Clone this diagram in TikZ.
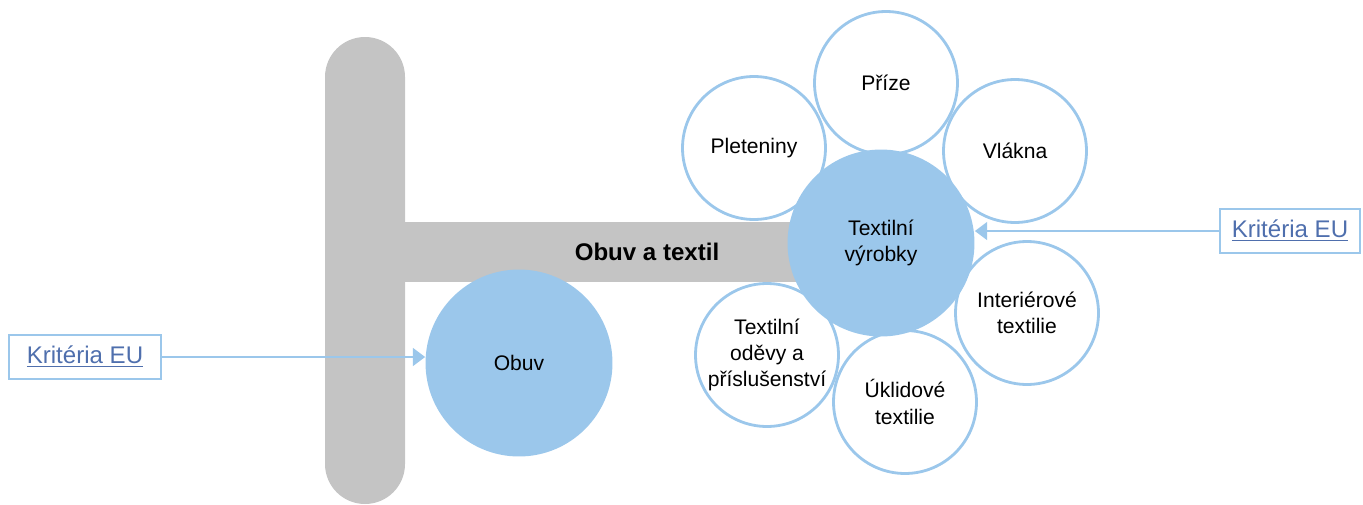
\documentclass[tikz,border=0pt]{standalone}
\usepackage{fontspec}
\setmainfont{Liberation Sans}
\usetikzlibrary{arrows.meta, positioning}
\definecolor{lightblue}{RGB}{155,199,235}
\definecolor{bargray}{RGB}{196,196,196}
\definecolor{linkblue}{RGB}{79,111,173}

\begin{document}
\begin{tikzpicture}[x=0.02cm, y=-0.02cm,
	bigcirc/.style={circle, fill=lightblue, inner sep=0pt, minimum size=3.74cm, align=center, font=\fontsize{12}{15}\selectfont},
	smallcirc/.style={circle, draw=lightblue, line width=1.6pt, inner sep=0pt, minimum size=2.86cm, align=center, font=\fontsize{12}{15}\selectfont},
	kritbox/.style={draw=lightblue, line width=1.6pt, inner sep=0pt, minimum height=0.88cm, text=linkblue, font=\fontsize{13.7}{16}\selectfont},
	pointer/.style={draw=lightblue, line width=1.6pt, -{Triangle[length=7pt,width=10pt]}}]
			\useasboundingbox (0,0) rectangle (1363,504);
			% gray T shape
			\fill[bargray, rounded corners=0.8cm] (325,37) rectangle (405,504);
			\fill[bargray] (400,222) rectangle (850,282);
			\node[font=\bfseries\fontsize{13.7}{16}\selectfont] (ot) at (647,252) {Obuv a textil};
			
			\draw (754,148) node[smallcirc] (plet) {Pleteniny}
			(886,83) node[smallcirc] (prize) {Příze}
			(1015,151) node[smallcirc] (vlak) {Vlákna}
			(1027,313) node[smallcirc] (inter) {Interiérové\\textilie}
			(905,402) node[smallcirc] (uklid) {Úklidové\\textilie}
			(767,355) node[smallcirc] (odevy) {Textilní\\oděvy a\\příslušenství};
			
			\draw (881,243) node[bigcirc] (tv) {Textilní\\výrobky}
			(519,363) node[bigcirc] (obuv) {Obuv};
			
			\draw (85,357) node[kritbox, minimum width=3.04cm] (k1) {\underline{Kritéria EU}}
			(1290,231) node[kritbox, minimum width=2.8cm] (k2) {\underline{Kritéria EU}};
			
			\draw[pointer] (k1.east) -- (k1.east -| obuv.west);
			\draw[pointer] (k2.west) -- (k2.west -| tv.east);
		\end{tikzpicture}
\end{document}
